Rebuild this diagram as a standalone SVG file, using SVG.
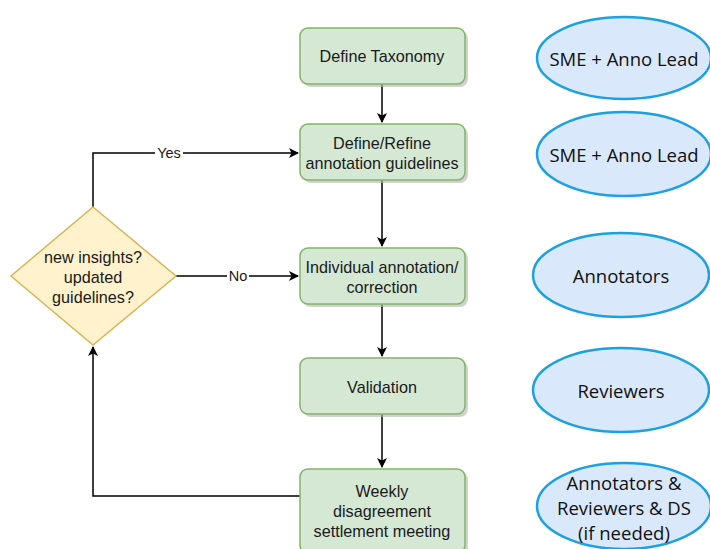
<svg xmlns="http://www.w3.org/2000/svg" width="710" height="549" viewBox="0 0 710 549">
<style>
.box{fill:#d5e8d4;stroke:#82b366;stroke-width:1.5}
.shadow{fill:#b3b3b3;opacity:0.6}
.dia{fill:#fff2cc;stroke:#d6b656;stroke-width:1.5}
.ell{fill:#dae8fc;stroke:#1ba1e2;stroke-width:2.5}
.t{font-family:"Liberation Sans",Arial,sans-serif;font-size:16.2px;fill:#1a1a1a;text-anchor:middle;dominant-baseline:central}
.e{font-family:"Open Sans","Noto Sans",sans-serif;font-size:18.5px;fill:#111;text-anchor:middle;dominant-baseline:central}
.lbl{font-family:"Liberation Sans",Arial,sans-serif;font-size:14.5px;fill:#1a1a1a;text-anchor:middle;dominant-baseline:central}
.c{fill:none;stroke:#000;stroke-width:1.5}
</style>
<defs>
<marker id="arr" viewBox="0 0 10 10" refX="9" refY="5" markerWidth="10" markerHeight="10" markerUnits="userSpaceOnUse" orient="auto">
<path d="M0,0 L10,5 L0,10 L2.5,5 Z" fill="#000"/>
</marker>
</defs>
<rect width="710" height="549" fill="#fff"/>
<g id="connectors">
<path class="c" d="M382,84 L382,122" marker-end="url(#arr)"/>
<path class="c" d="M382,180 L382,246" marker-end="url(#arr)"/>
<path class="c" d="M382,304 L382,356" marker-end="url(#arr)"/>
<path class="c" d="M382,414 L382,467" marker-end="url(#arr)"/>
<path class="c" d="M93,207 L93,153 L298,153" marker-end="url(#arr)"/>
<path class="c" d="M176,276 L298,276" marker-end="url(#arr)"/>
<path class="c" d="M300,496 L93,496 L93,347" marker-end="url(#arr)"/>
<rect x="155" y="145" width="28" height="16" fill="#fff"/>
<text class="lbl" x="169" y="153">Yes</text>
<rect x="227" y="268" width="22" height="16" fill="#fff"/>
<text class="lbl" x="238" y="276">No</text>
</g>
<g id="n1">
<rect class="shadow" x="303" y="31" width="165" height="56" rx="8"/>
<rect class="box" x="300" y="28" width="165" height="56" rx="8"/>
<text class="t" x="382" y="56">Define Taxonomy</text>
</g>
<g id="n2">
<rect class="shadow" x="303" y="127" width="165" height="56" rx="8"/>
<rect class="box" x="300" y="124" width="165" height="56" rx="8"/>
<text class="t" x="382" y="143">Define/Refine</text>
<text class="t" x="382" y="163">annotation guidelines</text>
</g>
<g id="n3">
<rect class="shadow" x="303" y="251" width="165" height="56" rx="8"/>
<rect class="box" x="300" y="248" width="165" height="56" rx="8"/>
<text class="t" x="382" y="267">Individual annotation/</text>
<text class="t" x="382" y="287">correction</text>
</g>
<g id="n4">
<rect class="shadow" x="303" y="361" width="165" height="56" rx="8"/>
<rect class="box" x="300" y="358" width="165" height="56" rx="8"/>
<text class="t" x="382" y="387">Validation</text>
</g>
<g id="n5">
<rect class="shadow" x="303" y="472" width="165" height="84" rx="8"/>
<rect class="box" x="300" y="469" width="165" height="84" rx="8"/>
<text class="t" x="382" y="491">Weekly</text>
<text class="t" x="382" y="511">disagreement</text>
<text class="t" x="382" y="531">settlement meeting</text>
</g>
<g id="decision">
<polygon class="dia" points="93,207 176,276 93,345 11,276"/>
<text class="t" x="93" y="257">new insights?</text>
<text class="t" x="93" y="277">updated</text>
<text class="t" x="93" y="297">guidelines?</text>
</g>
<g id="r1">
<ellipse class="ell" cx="624" cy="58" rx="87" ry="41"/>
<text class="e" x="624" y="58">SME + Anno Lead</text>
</g>
<g id="r2">
<ellipse class="ell" cx="624" cy="154" rx="87" ry="42"/>
<text class="e" x="624" y="154">SME + Anno Lead</text>
</g>
<g id="r3">
<ellipse class="ell" cx="621" cy="275" rx="88" ry="42"/>
<text class="e" x="621" y="275">Annotators</text>
</g>
<g id="r4">
<ellipse class="ell" cx="621" cy="390" rx="88" ry="42"/>
<text class="e" x="621" y="390">Reviewers</text>
</g>
<g id="r5">
<ellipse class="ell" cx="624" cy="506" rx="87" ry="43"/>
<text class="e" x="624" y="482">Annotators &amp;</text>
<text class="e" x="624" y="507">Reviewers &amp; DS</text>
<text class="e" x="624" y="532">(if needed)</text>
</g>
</svg>
